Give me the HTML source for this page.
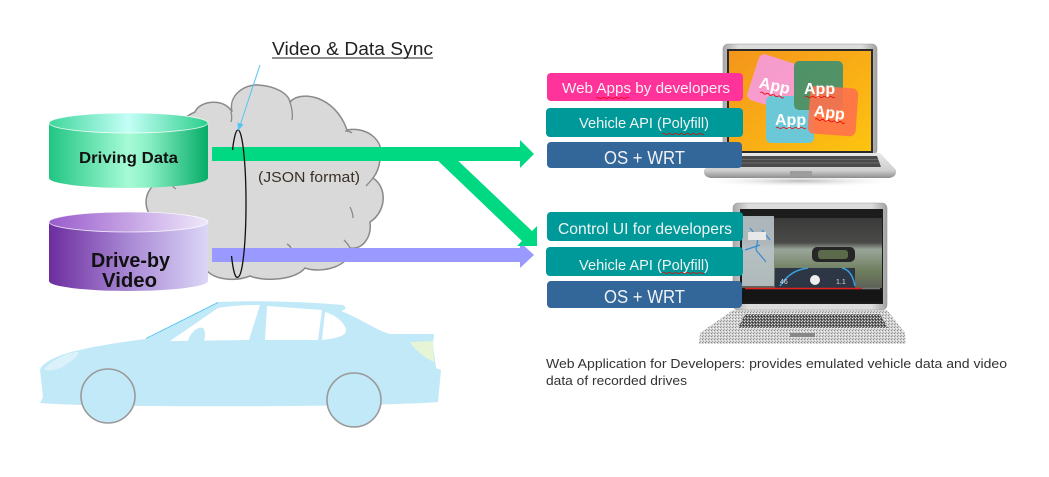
<!DOCTYPE html>
<html><head><meta charset="utf-8"><style>
html,body{margin:0;padding:0;background:#fff;}
svg{display:block;}
text{font-family:"Liberation Sans",sans-serif;}
</style></head><body>
<svg width="1049" height="477" viewBox="0 0 1049 477" xmlns="http://www.w3.org/2000/svg">
<defs>
<linearGradient id="gBody" x1="0" x2="1" y1="0" y2="0">
<stop offset="0" stop-color="#20c583"/><stop offset="0.5" stop-color="#a6fbd6"/><stop offset="0.62" stop-color="#8cf0c6"/><stop offset="1" stop-color="#05ad68"/></linearGradient>
<linearGradient id="gTop" x1="0" x2="1" y1="0" y2="0">
<stop offset="0" stop-color="#3fd79c"/><stop offset="0.5" stop-color="#c4fff6"/><stop offset="1" stop-color="#2ccf8c"/></linearGradient>
<linearGradient id="pBody" x1="0" x2="1" y1="0" y2="0">
<stop offset="0" stop-color="#6d2d9f"/><stop offset="0.5" stop-color="#a888d4"/><stop offset="1" stop-color="#dcd6f7"/></linearGradient>
<linearGradient id="pTop" x1="0" x2="1" y1="0" y2="0">
<stop offset="0" stop-color="#9a5ccc"/><stop offset="1" stop-color="#efe8fb"/></linearGradient>
<linearGradient id="orange" x1="0" x2="1" y1="0" y2="1">
<stop offset="0" stop-color="#f4951c"/><stop offset="1" stop-color="#fdc410"/></linearGradient>
<linearGradient id="silverH" x1="0" x2="1" y1="0" y2="0">
<stop offset="0" stop-color="#a8a8a8"/><stop offset="0.1" stop-color="#dcdcdc"/><stop offset="0.9" stop-color="#dcdcdc"/><stop offset="1" stop-color="#a0a0a0"/></linearGradient>
<linearGradient id="baseG" x1="0" x2="0" y1="0" y2="1">
<stop offset="0" stop-color="#e8e8e8"/><stop offset="0.7" stop-color="#cfcfcf"/><stop offset="1" stop-color="#8e8e8e"/></linearGradient>
<radialGradient id="shadow" cx="0.5" cy="0.5" r="0.5">
<stop offset="0" stop-color="#bbb"/><stop offset="1" stop-color="#fff" stop-opacity="0"/></radialGradient>
<pattern id="dith" width="3" height="3" patternUnits="userSpaceOnUse">
<rect width="3" height="3" fill="#d4d4d4"/><rect x="0" y="0" width="1" height="1" fill="#8a8a8a"/><rect x="2" y="1" width="1" height="1" fill="#f4f4f4"/><rect x="1" y="2" width="1" height="1" fill="#a8a8a8"/></pattern>
<pattern id="dithD" width="3" height="3" patternUnits="userSpaceOnUse">
<rect width="3" height="3" fill="#6a6a6a"/><rect x="0" y="0" width="1" height="1" fill="#e0e0e0"/><rect x="2" y="1" width="1" height="1" fill="#333"/><rect x="1" y="2" width="1" height="1" fill="#bbb"/></pattern>
<linearGradient id="road" x1="0" x2="0" y1="0" y2="1">
<stop offset="0" stop-color="#3a3a3a"/><stop offset="0.35" stop-color="#4a4a48"/><stop offset="0.45" stop-color="#9aa59a"/><stop offset="0.75" stop-color="#6f7f5e"/><stop offset="1" stop-color="#5d6158"/></linearGradient>
</defs>

<!-- Title -->
<text x="272" y="55" font-size="18" fill="#222" textLength="161" lengthAdjust="spacingAndGlyphs">Video &amp; Data Sync</text>
<line x1="272" y1="58" x2="433" y2="58" stroke="#222" stroke-width="1"/>

<!-- Cloud -->
<path d="M195,112 C200,100 225,98 232,112 C228,95 245,84 258,85 C275,86 288,93 290,102 C300,90 335,95 347,130 C368,126 386,142 380,160 C379,168 377,173 373,178 C388,188 386,212 370,222 C372,238 362,250 350,248 C352,266 322,274 305,268 C295,280 265,282 250,276 C235,282 212,280 205,268 C180,272 158,262 160,245 C142,240 138,222 150,215 C140,200 150,180 168,180 C160,150 175,120 195,112 Z" fill="#d9d9d9" stroke="#8a8a8a" stroke-width="1.5"/>
<g fill="none" stroke="#8a8a8a" stroke-width="1.3">
<path d="M231,112 C232,116 232,119 231,122"/>
<path d="M290,102 C292,108 293,114 292,120"/>
<path d="M345,131 C348,131 351,132 352,133"/>
<path d="M373,178 C370,182 368,184 366,186"/>
<path d="M350,207 C352,211 353,214 353,218"/>
<path d="M350,248 C348,244 346,242 344,240"/>
<path d="M287,244 C289,245 290,246 291,248"/>
<path d="M168,180 C170,184 173,187 176,189"/>
</g>

<!-- Cylinder Driving Data -->
<path d="M49,123 L49,178 A79.5,10 0 0 0 208,178 L208,123 Z" fill="url(#gBody)"/>
<ellipse cx="128.5" cy="123" rx="79.5" ry="10" fill="url(#gTop)" stroke="#fff" stroke-width="0.8" stroke-opacity="0.8"/>
<text x="79" y="163" font-size="16" font-weight="bold" fill="#111" textLength="99" lengthAdjust="spacingAndGlyphs">Driving Data</text>

<!-- Cylinder Drive-by Video -->
<path d="M49,222 L49,281 A79.5,10 0 0 0 208,281 L208,222 Z" fill="url(#pBody)"/>
<ellipse cx="128.5" cy="222" rx="79.5" ry="10" fill="url(#pTop)" stroke="#fff" stroke-width="0.8" stroke-opacity="0.8"/>
<text x="91" y="267" font-size="20" font-weight="bold" fill="#111" textLength="79" lengthAdjust="spacingAndGlyphs">Drive-by</text>
<text x="102" y="287" font-size="20" font-weight="bold" fill="#111" textLength="55" lengthAdjust="spacingAndGlyphs">Video</text>

<!-- JSON -->
<text x="258" y="182" font-size="15" fill="#3a3028" textLength="102" lengthAdjust="spacingAndGlyphs">(JSON format)</text>

<!-- Arrows -->
<polygon points="212,248 520,248 520,242 534,255 520,268 520,262 212,262" fill="#9999ff"/>
<polygon points="212,147 520,147 520,140 534,154 520,168 520,161 212,161" fill="#00d982"/>
<polygon points="432,155 452,155 532,231 537,226 537,246 517,246 522,241" fill="#00d982"/>

<!-- Sync ring -->
<path d="M232.5,150 A8,73.5 0 0 1 238,130 A8,73.5 0 0 1 238,277 A8,73.5 0 0 1 231.5,256" fill="none" stroke="#111" stroke-width="1.3"/>

<!-- Callout line -->
<line x1="260" y1="65" x2="240.5" y2="124" stroke="#55c4f2" stroke-width="1"/>
<polygon points="238,131 243.5,124.5 237.5,122.5" fill="#55c4f2"/>

<!-- Car -->
<g>
<path d="M40,403 L43,397 L40,370 C42,362 60,354 80,350 C100,345 130,341 146,339 L218,302 C260,300 310,302 343,305 C347,307 346,310 341,311 C360,318 375,330 390,334 L434,334 L433,345 L436,368 L441,370 L438,402 C380,407 100,408 40,403 Z" fill="#c1e9f8"/>
<line x1="146" y1="338.5" x2="218" y2="302.5" stroke="#4cc0ee" stroke-width="0.9"/>
<path d="M170,341 L218,308 C235,305 250,305 260,305 L249,340 Z" fill="#fff"/>
<path d="M188,341 C190,333 198,326 203,328 C206,331 205,337 204,341 Z" fill="#c1e9f8"/>
<path d="M267,306 L322,310 L318,340 L265,340 Z" fill="#fff"/>
<path d="M325,312 C338,316 345,324 346,330 C346,336 338,338 322,340 Z" fill="#fff"/>
<path d="M45,368 C55,358 70,352 78,352 C80,356 72,360 64,366 C58,370 50,371 45,370 Z" fill="#dcf2fb"/>
<path d="M410,342 L433,341 L434,362 C425,358 415,350 410,342 Z" fill="#e6f5d6"/>
<circle cx="108" cy="396" r="27" fill="#c1e9f8" stroke="#9a9a9a" stroke-width="1.6"/>
<circle cx="354" cy="400" r="27" fill="#c1e9f8" stroke="#9a9a9a" stroke-width="1.6"/>
</g>

<!-- Laptop 1 -->
<ellipse cx="800" cy="181" rx="105" ry="6" fill="url(#shadow)"/>
<rect x="723" y="44" width="154" height="111" rx="5" fill="url(#silverH)" stroke="#9a9a9a" stroke-width="0.6"/>
<rect x="727" y="49" width="146" height="104" fill="#2a2a2a"/>
<rect x="729" y="51" width="142" height="100" fill="url(#orange)"/>
<path d="M720,153 L880,153 L896,170 Q897,177 889,178 L711,178 Q703,177 704,170 Z" fill="url(#baseG)"/>
<path d="M741,156 L877,156 L881,167 L737,167 Z" fill="#4a4a4a"/>
<g stroke="#8a8a8a" stroke-width="0.5">
<line x1="740" y1="159.5" x2="878" y2="159.5"/><line x1="739" y1="163" x2="880" y2="163"/>
</g>
<rect x="790" y="171" width="22" height="5" rx="1" fill="#9c9c9c"/>

<!-- App tiles -->
<g opacity="0.9">
<rect x="752" y="59" width="48" height="48" rx="6" fill="#f79ce0" transform="rotate(18 776 83)"/>
<rect x="766" y="96" width="48" height="47" rx="5" fill="#5dcbec"/>
<rect x="794" y="61" width="49" height="49" rx="5" fill="#3f9070"/>
<rect x="809" y="87" width="48" height="48" rx="6" fill="#ff6a52" opacity="0.9" transform="rotate(4 833 111)"/>
</g>
<g font-size="16" font-weight="bold" fill="#fff">
<text x="759" y="91" transform="rotate(12 775 86)">App</text>
<text x="804" y="94">App</text>
<text x="814" y="118" transform="rotate(7 830 112)">App</text>
<text x="775" y="125">App</text>
</g>
<g fill="none" stroke="#e00" stroke-width="0.8">
<path d="M760,95 q1.5,-1.5 3,0 t3,0 t3,0 t3,0 t3,0 t3,0 t3,0 t3,0" transform="rotate(12 772 95)"/>
<path d="M805,97 q1.5,-1.5 3,0 t3,0 t3,0 t3,0 t3,0 t3,0 t3,0 t3,0 t3,0 t3,0"/>
<path d="M815,121 q1.5,-1.5 3,0 t3,0 t3,0 t3,0 t3,0 t3,0 t3,0 t3,0 t3,0 t3,0" transform="rotate(7 830 121)"/>
<path d="M776,128 q1.5,-1.5 3,0 t3,0 t3,0 t3,0 t3,0 t3,0 t3,0 t3,0 t3,0 t3,0"/>
</g>

<!-- Laptop 2 -->
<path d="M733,310 L887,310 L905,333 L906,344 L699,344 L700,333 Z" fill="url(#dith)"/>
<path d="M745,314 L880,314 L888,328 L738,328 Z" fill="url(#dithD)"/>
<rect x="790" y="333" width="25" height="4" fill="#888"/>
<rect x="733" y="203" width="154" height="107" rx="5" fill="url(#silverH)" stroke="#9a9a9a" stroke-width="0.6"/>
<rect x="740" y="209" width="143" height="95" fill="#1c1c1c"/>
<rect x="742" y="218" width="140" height="70" fill="url(#road)"/>
<rect x="742" y="216" width="32" height="70" fill="#b9c3c8" opacity="0.9"/>
<path d="M750,228 L758,238 L756,250 L766,262 M745,250 L760,245 M762,230 L770,240" stroke="#3a8ad0" stroke-width="1.2" fill="none"/>
<rect x="748" y="232" width="18" height="8" fill="#e8e8e8"/>
<rect x="812" y="247" width="43" height="15" rx="5" fill="#262626"/>
<rect x="818" y="250" width="30" height="9" rx="3" fill="#5a6a4a"/>
<rect x="775" y="268" width="80" height="20" fill="#2c3644"/>
<path d="M780,286 Q790,270 808,268 M842,268 Q852,270 855,286" stroke="#3aa0e0" stroke-width="1.5" fill="none"/>
<circle cx="815" cy="280" r="5" fill="#eee"/>
<text x="780" y="284" font-size="7" fill="#ddd">46</text>
<text x="836" y="284" font-size="7" fill="#ddd">1.1</text>
<line x1="745" y1="288.5" x2="862" y2="288.5" stroke="#e62020" stroke-width="1.5"/>
<line x1="862" y1="288.5" x2="880" y2="288.5" stroke="#777" stroke-width="1.5"/>
<rect x="742" y="290" width="140" height="12" fill="#151515"/>

<!-- Boxes row 1 -->
<rect x="547" y="73" width="196" height="28" rx="4" fill="#ff3399"/>
<text x="562" y="93" font-size="15" fill="#f6f0f4" textLength="168" lengthAdjust="spacingAndGlyphs">Web Apps by developers</text>
<path d="M596,98 q1.5,-1.5 3,0 t3,0 t3,0 t3,0 t3,0 t3,0 t3,0 t3,0 t3,0 t3,0 t3,0" fill="none" stroke="#e00" stroke-width="0.8"/>
<rect x="546" y="108" width="197" height="29" rx="4" fill="#009999"/>
<text x="579" y="128" font-size="15" fill="#f0f4f4" textLength="130" lengthAdjust="spacingAndGlyphs">Vehicle API (Polyfill)</text>
<path d="M662,134 q1.5,-1.5 3,0 t3,0 t3,0 t3,0 t3,0 t3,0 t3,0 t3,0 t3,0 t3,0 t3,0 t3,0 t3,0 t3,0" fill="none" stroke="#e00" stroke-width="0.8"/>
<rect x="547" y="142" width="195" height="26" rx="4" fill="#336699"/>
<text x="604" y="164" font-size="18" fill="#f0f2f6" textLength="81" lengthAdjust="spacingAndGlyphs">OS + WRT</text>

<!-- Boxes row 2 -->
<rect x="547" y="212" width="196" height="29" rx="4" fill="#009999"/>
<text x="558" y="234" font-size="16" fill="#f0f4f4" textLength="174" lengthAdjust="spacingAndGlyphs">Control UI for developers</text>
<rect x="546" y="247" width="197" height="29" rx="4" fill="#009999"/>
<text x="579" y="270" font-size="15" fill="#f0f4f4" textLength="130" lengthAdjust="spacingAndGlyphs">Vehicle API (Polyfill)</text>
<path d="M662,273 q1.5,-1.5 3,0 t3,0 t3,0 t3,0 t3,0 t3,0 t3,0 t3,0 t3,0 t3,0 t3,0 t3,0 t3,0 t3,0" fill="none" stroke="#e00" stroke-width="0.8"/>
<rect x="547" y="281" width="195" height="27" rx="4" fill="#336699"/>
<text x="604" y="303" font-size="18" fill="#f0f2f6" textLength="81" lengthAdjust="spacingAndGlyphs">OS + WRT</text>

<!-- Caption -->
<text x="546" y="368" font-size="13" fill="#333" textLength="461" lengthAdjust="spacingAndGlyphs">Web Application for Developers: provides emulated vehicle data and video</text>
<text x="546" y="385" font-size="13" fill="#333" textLength="141" lengthAdjust="spacingAndGlyphs">data of recorded drives</text>
</svg>
</body></html>
